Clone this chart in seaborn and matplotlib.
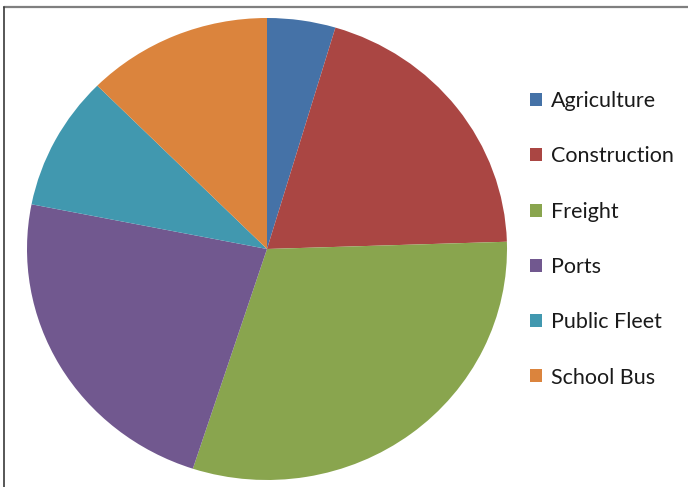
import matplotlib
matplotlib.use("Agg")
import matplotlib.pyplot as plt
from matplotlib.lines import Line2D
from matplotlib.patches import Patch
import seaborn as sns

# Share of vehicles by sector
sectors = ["Agriculture", "Construction", "Freight", "Ports", "Public Fleet", "School Bus"]
shares = [4.6, 19.9, 30.5, 23.1, 9.4, 12.5]
sector_colors = ["#4572A7", "#AA4643", "#89A54E", "#71588F", "#4198AF", "#DB843D"]

sns.set_theme(style="white")
plt.rcParams["font.family"] = ["Lato", "DejaVu Sans"]
palette = sns.color_palette(sector_colors)

W, H = 688, 487
fig = plt.figure(figsize=(W / 100, H / 100), dpi=100)
fig.patch.set_facecolor("white")

# pie area: centre (267, 249) px, radii 240 x 231 px
cx, cy, rx, ry = 267, 249, 240, 231
ax = fig.add_axes([(cx - rx) / W, (H - cy - ry) / H, 2 * rx / W, 2 * ry / H])
ax.pie(shares, colors=palette, startangle=90, counterclock=False,
       radius=1.0, wedgeprops=dict(linewidth=0))
ax.set_xlim(-1, 1)
ax.set_ylim(-1, 1)
ax.set_aspect("auto")
ax.axis("off")

# legend on the right
handles = [Patch(facecolor=c, edgecolor="none") for c in palette]
leg = fig.legend(handles, sectors, loc="upper left",
                 bbox_to_anchor=(515 / W, 1 - 76 / H),
                 frameon=False, fontsize=15.5, handlelength=0.55, handleheight=0.55,
                 handletextpad=0.4, labelspacing=1.64, borderpad=0.2)
for t in leg.get_texts():
    t.set_color("#1a1a1a")

# chart frame (top and left edges)
fig.add_artist(Line2D([4 / W, 1], [1 - 7 / H, 1 - 7 / H], color="#7f7f7f", lw=1.6,
                      transform=fig.transFigure))
fig.add_artist(Line2D([4 / W, 4 / W], [0, 1 - 7 / H], color="#3a3a3a", lw=1.2,
                      transform=fig.transFigure))

fig.savefig("out.png", dpi=100, facecolor="white")
